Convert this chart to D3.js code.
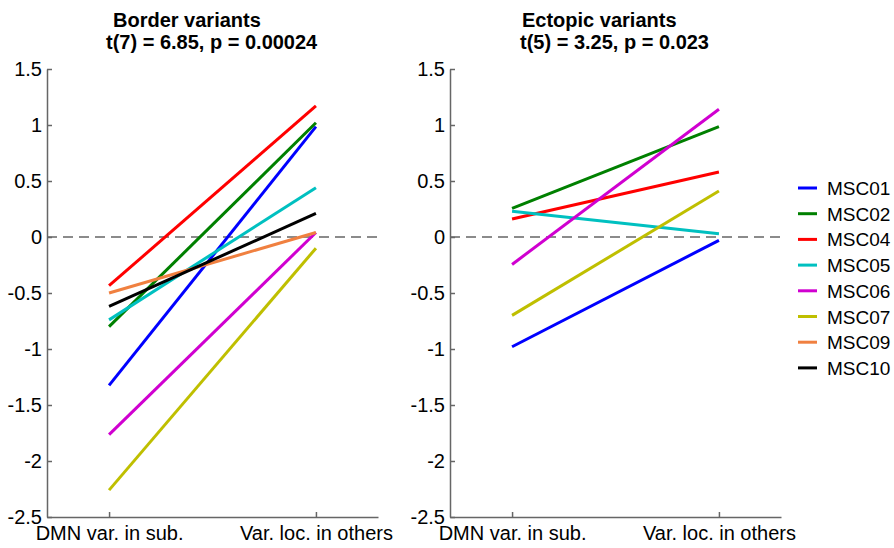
<!DOCTYPE html>
<html>
<head>
<meta charset="utf-8">
<script src="https://cdn.jsdelivr.net/npm/d3@7"></script>
<style>
  body { margin: 0; background: #fff; }
  svg { display: block; font-family: "Liberation Sans", Arial, Helvetica, sans-serif; }
</style>
</head>
<body>
<svg id="chart" width="894" height="548"></svg>
<script>
// Conditions on the x axis
const conditions = ["DMN var. in sub.", "Var. loc. in others"];
const yTicks = [1.5, 1, 0.5, 0, -0.5, -1, -1.5, -2, -2.5];

// Subjects and colours
const subjects = ["MSC01", "MSC02", "MSC04", "MSC05", "MSC06", "MSC07", "MSC09", "MSC10"];
const colors = ["#0000ff", "#008000", "#ff0000", "#00c0c0", "#d000d0", "#bfbf00", "#f08040", "#000000"];

// Border variants: [DMN var. in sub., Var. loc. in others]
const borderSubjects = ["MSC01", "MSC02", "MSC04", "MSC05", "MSC06", "MSC07", "MSC09", "MSC10"];
const borderValues = [
  [-1.325, 0.985],
  [-0.80, 1.02],
  [-0.435, 1.17],
  [-0.74, 0.44],
  [-1.765, 0.04],
  [-2.26, -0.10],
  [-0.50, 0.04],
  [-0.62, 0.21]
];

// Ectopic variants
const ectopicSubjects = ["MSC01", "MSC02", "MSC04", "MSC05", "MSC06", "MSC07"];
const ectopicValues = [
  [-0.98, -0.03],
  [0.255, 0.985],
  [0.16, 0.58],
  [0.23, 0.03],
  [-0.245, 1.14],
  [-0.70, 0.41]
];

const svg = d3.select("#chart");
const colorOf = d3.scaleOrdinal().domain(subjects).range(colors);
const y = d3.scaleLinear().domain([-2.5, 1.5]).range([517, 69]);

function panel(x0, x1, names, values, title1, title2, tx1, tx2) {
  const x = d3.scaleLinear().domain([0.7, 2.3]).range([x0, x1]);
  const g = svg.append("g");

  // zero reference line
  g.append("line")
    .attr("x1", x0).attr("x2", x1)
    .attr("y1", y(0)).attr("y2", y(0))
    .attr("stroke", "#666").attr("stroke-width", 1.5)
    .attr("stroke-dasharray", "10,6");

  // y axis
  const ya = g.append("g")
    .attr("transform", `translate(${x0},0)`)
    .call(d3.axisLeft(y).tickValues(yTicks).tickFormat(d => String(d))
      .tickSizeInner(-5).tickSizeOuter(0).tickPadding(5));
  ya.selectAll("path, line").attr("stroke", "#666").attr("stroke-width", 1.5);
  ya.selectAll("text").attr("font-size", 20).attr("fill", "#000");

  // x axis
  const xa = g.append("g")
    .attr("transform", `translate(0,${y(-2.5)})`)
    .call(d3.axisBottom(x).tickValues([1, 2]).tickFormat((d, i) => conditions[i])
      .tickSizeInner(-5).tickSizeOuter(0).tickPadding(9));
  xa.selectAll("path, line").attr("stroke", "#666").attr("stroke-width", 1.5);
  xa.selectAll("text").attr("font-size", 20).attr("fill", "#000");

  // one line per subject
  g.selectAll("line.subj")
    .data(values.map((v, i) => ({ name: names[i], v })))
    .join("line")
    .attr("class", "subj")
    .attr("x1", x(1)).attr("x2", x(2))
    .attr("y1", d => y(d.v[0])).attr("y2", d => y(d.v[1]))
    .attr("stroke", d => colorOf(d.name))
    .attr("stroke-width", 3);

  g.append("text").attr("x", tx1).attr("y", 27)
    .attr("font-size", 20).attr("font-weight", "bold").text(title1);
  g.append("text").attr("x", tx2).attr("y", 49)
    .attr("font-size", 20).attr("font-weight", "bold").text(title2);
}

panel(47, 378, borderSubjects, borderValues, "Border variants", "t(7) = 6.85, p = 0.00024", 113, 106);
panel(450, 781, ectopicSubjects, ectopicValues, "Ectopic variants", "t(5) = 3.25, p = 0.023", 522, 520);

// legend
const legend = svg.append("g").attr("transform", "translate(798,188)");
const rows = legend.selectAll("g").data(subjects).join("g")
  .attr("transform", (d, i) => `translate(0,${i * 25.7})`);
rows.append("line").attr("x1", 0).attr("x2", 19).attr("y1", 0).attr("y2", 0)
  .attr("stroke", d => colorOf(d)).attr("stroke-width", 3);
rows.append("text").attr("x", 29).attr("y", 7).attr("font-size", 19).text(d => d);
</script>
</body>
</html>
